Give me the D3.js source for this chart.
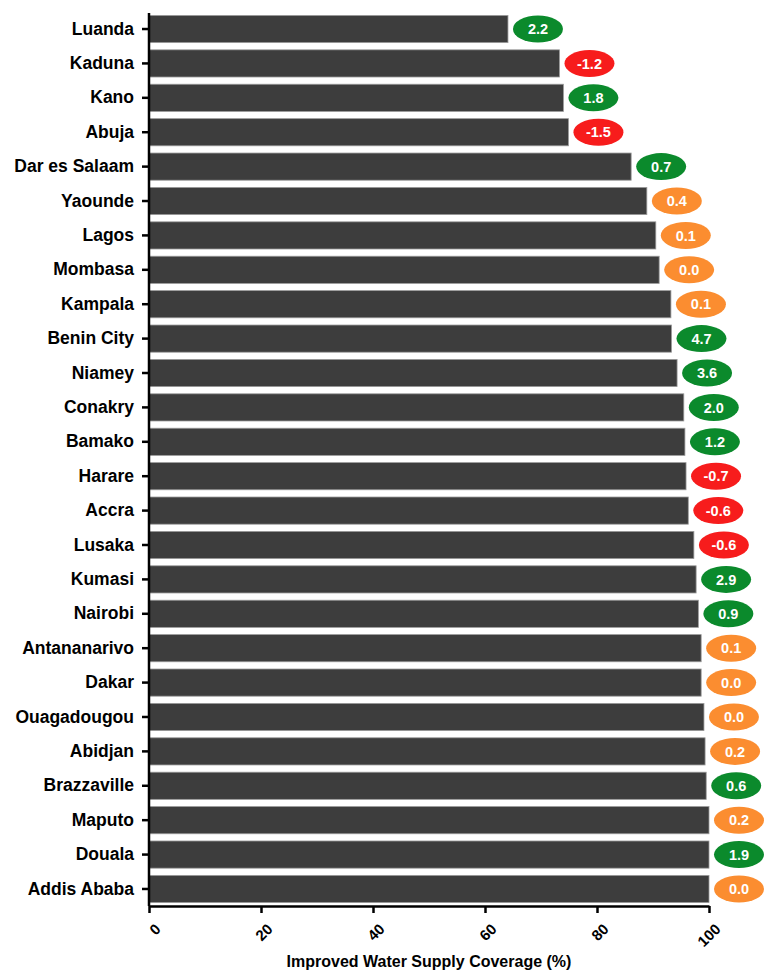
<!DOCTYPE html>
<html>
<head>
<meta charset="utf-8">
<script src="https://cdn.jsdelivr.net/npm/d3@7"></script>
<style>
  body { margin: 0; background: #fff; }
  svg text { font-family: "Liberation Sans", Arial, sans-serif; font-weight: bold; }
</style>
</head>
<body>
<script>
// city names, top to bottom
var cities = ["Luanda", "Kaduna", "Kano", "Abuja", "Dar es Salaam", "Yaounde", "Lagos",
    "Mombasa", "Kampala", "Benin City", "Niamey", "Conakry", "Bamako", "Harare", "Accra",
    "Lusaka", "Kumasi", "Nairobi", "Antananarivo", "Dakar", "Ouagadougou", "Abidjan",
    "Brazzaville", "Maputo", "Douala", "Addis Ababa"];

// improved water supply coverage (%)
var coverage = [64.1, 73.3, 74.0, 74.9, 86.1, 88.9, 90.5, 91.1, 93.2, 93.3, 94.3, 95.5,
    95.7, 95.9, 96.3, 97.3, 97.7, 98.1, 98.6, 98.6, 99.1, 99.3, 99.5, 100, 100, 100];

// annual change shown in the bubbles
var change = [2.2, -1.2, 1.8, -1.5, 0.7, 0.4, 0.1, 0.0, 0.1, 4.7, 3.6, 2.0, 1.2, -0.7,
    -0.6, -0.6, 2.9, 0.9, 0.1, 0.0, 0.0, 0.2, 0.6, 0.2, 1.9, 0.0];

var xTicks = [0, 20, 40, 60, 80, 100];

var W = 764, H = 971;
var margin = {top: 12, left: 149, right: 55, bottom: 65};

var svg = d3.select("body").append("svg")
    .attr("width", W)
    .attr("height", H);

var x = d3.scaleLinear()
    .domain([0, 100])
    .range([margin.left, W - margin.right]);

var y = d3.scaleBand()
    .domain(cities)
    .range([margin.top, H - margin.bottom])
    .paddingInner(0.21)
    .paddingOuter(0.1);

function bubbleColor(v) {
    if (v >= 0.5) return "#0b8a2c";
    if (v <= -0.5) return "#f71c1c";
    return "#fb8d30";
}

// bars
svg.selectAll("rect.bar")
    .data(cities)
    .enter()
    .append("rect")
    .attr("class", "bar")
    .attr("x", x(0))
    .attr("y", function(d) { return y(d); })
    .attr("width", function(d, i) { return x(coverage[i]) - x(0); })
    .attr("height", y.bandwidth())
    .attr("fill", "#3d3d3d")
    .attr("stroke", "#9a9a9a")
    .attr("stroke-width", 0.8);

// bubbles
var bubbles = svg.selectAll("g.bubble")
    .data(cities)
    .enter()
    .append("g")
    .attr("class", "bubble")
    .attr("transform", function(d, i) {
        return "translate(" + (x(coverage[i]) + 30) + "," + (y(d) + y.bandwidth() / 2) + ")";
    });

bubbles.append("ellipse")
    .attr("rx", 25)
    .attr("ry", 13.5)
    .attr("fill", function(d, i) { return bubbleColor(change[i]); });

bubbles.append("text")
    .attr("text-anchor", "middle")
    .attr("dy", "0.36em")
    .attr("fill", "#fff")
    .attr("font-size", 14.5)
    .text(function(d, i) { return change[i].toFixed(1); });

// y axis
var yAxis = svg.append("g")
    .attr("transform", "translate(" + x(0) + ",0)")
    .call(d3.axisLeft(y).tickSize(7).tickPadding(8));
yAxis.select(".domain").attr("stroke-width", 2.5).attr("d",
    "M0," + (margin.top + 1) + "V" + (H - margin.bottom));
yAxis.selectAll(".tick line").attr("stroke-width", 2.5);
yAxis.selectAll(".tick text")
    .attr("font-size", 17.5)
    .attr("fill", "#000");

// x axis
var xAxis = svg.append("g")
    .attr("transform", "translate(0," + (H - margin.bottom) + ")")
    .call(d3.axisBottom(x).tickValues(xTicks).tickSize(7).tickSizeOuter(0));
xAxis.select(".domain").attr("stroke-width", 2.5);
xAxis.selectAll(".tick line").attr("stroke-width", 2.5);
xAxis.selectAll(".tick text")
    .attr("font-size", 15)
    .attr("fill", "#000")
    .attr("text-anchor", "end")
    .attr("dy", 0)
    .attr("transform", "translate(5,17) rotate(-45)");

svg.append("text")
    .attr("x", 429)
    .attr("y", 967)
    .attr("text-anchor", "middle")
    .attr("font-size", 16)
    .attr("fill", "#000")
    .text("Improved Water Supply Coverage (%)");
</script>
</body>
</html>
